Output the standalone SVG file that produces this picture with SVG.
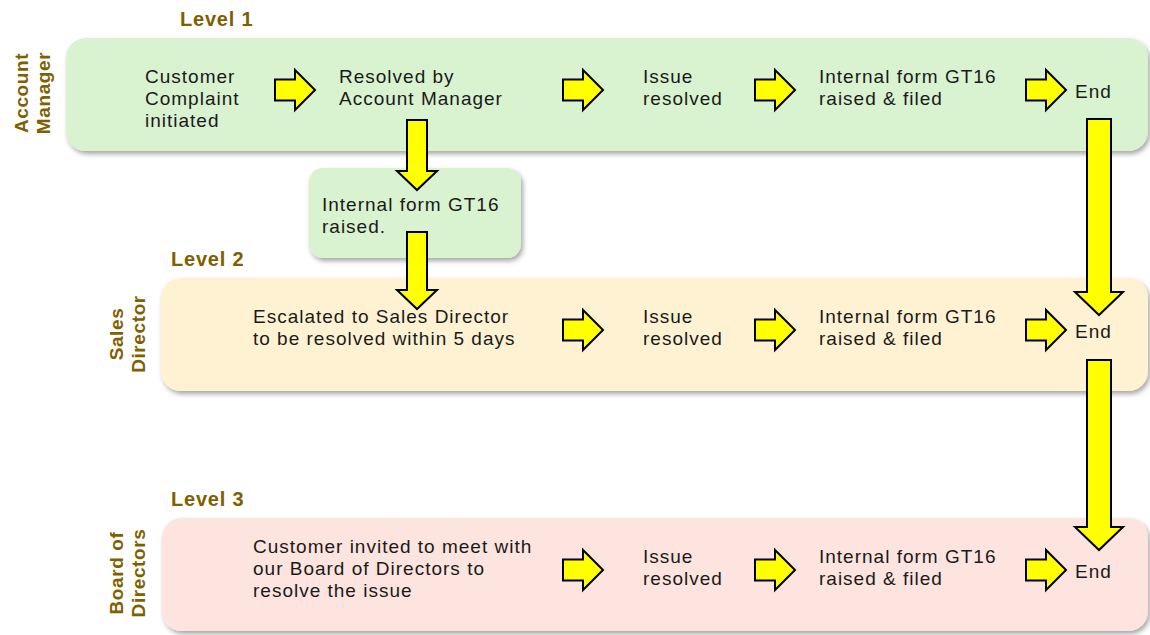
<svg xmlns="http://www.w3.org/2000/svg" xmlns:xlink="http://www.w3.org/1999/xlink" width="1150" height="635" viewBox="0 0 1150 635">
<style>
.t{font-family:"Liberation Sans",Arial,sans-serif;font-size:19px;letter-spacing:1px;fill:#1a1a1a}
.lv{font-family:"Liberation Sans",Arial,sans-serif;font-size:20px;font-weight:bold;letter-spacing:0.8px;fill:#7f6000}
.rl{font-family:"Liberation Sans",Arial,sans-serif;font-size:19px;font-weight:bold;letter-spacing:0.6px;fill:#7f6000}
.arr{fill:#ffff00;stroke:#000;stroke-width:2;stroke-linejoin:miter}
</style>
<defs>
<filter id="sh" x="-5%" y="-10%" width="110%" height="130%">
<feDropShadow dx="2" dy="3" stdDeviation="2.5" flood-color="#000" flood-opacity="0.35"/>
</filter>
<path id="ra" class="arr" d="M0,-10.5 H20 V-20 L40,0 L20,20 V10.5 H0 Z"/>
</defs>
<rect width="1150" height="635" fill="#fff"/>

<g id="level1">
<rect x="66" y="38" width="1082" height="113" rx="20" fill="#d9f2d0" filter="url(#sh)"/>
<text class="lv" x="180" y="26">Level 1</text>
<text class="rl" transform="translate(28,93) rotate(-90)" text-anchor="middle">Account</text>
<text class="rl" transform="translate(50,93) rotate(-90)" text-anchor="middle">Manager</text>
</g>
<g id="level2">
<rect x="161" y="278" width="987" height="113" rx="20" fill="#fff2d3" filter="url(#sh)"/>
<text class="lv" x="171" y="266">Level 2</text>
<text class="rl" transform="translate(123,334) rotate(-90)" text-anchor="middle">Sales</text>
<text class="rl" transform="translate(145,334) rotate(-90)" text-anchor="middle">Director</text>
</g>
<g id="level3">
<rect x="162" y="518" width="986" height="113" rx="20" fill="#fde4df" filter="url(#sh)"/>
<text class="lv" x="171" y="506">Level 3</text>
<text class="rl" transform="translate(123,573) rotate(-90)" text-anchor="middle">Board of</text>
<text class="rl" transform="translate(145,573) rotate(-90)" text-anchor="middle">Directors</text>
</g>

<g id="n-complaint"><text class="t" x="145" y="83">Customer</text><text class="t" x="145" y="105">Complaint</text><text class="t" x="145" y="127">initiated</text></g>
<g id="n-resolved-am"><text class="t" x="339" y="83">Resolved by</text><text class="t" x="339" y="105">Account Manager</text></g>
<g id="n-issue1"><text class="t" x="643" y="83">Issue</text><text class="t" x="643" y="105">resolved</text></g>
<g id="n-form1"><text class="t" x="819" y="83">Internal form GT16</text><text class="t" x="819" y="105">raised &amp; filed</text></g>
<g id="n-end1"><text class="t" x="1075" y="98">End</text></g>

<g id="n-form-raised">
<rect x="309" y="168" width="212" height="90" rx="14" fill="#d9f2d0" filter="url(#sh)"/>
<text class="t" x="322" y="211">Internal form GT16</text><text class="t" x="322" y="233">raised.</text>
</g>

<g id="n-escalated"><text class="t" x="253" y="323">Escalated to Sales Director</text><text class="t" x="253" y="345">to be resolved within 5 days</text></g>
<g id="n-issue2"><text class="t" x="643" y="323">Issue</text><text class="t" x="643" y="345">resolved</text></g>
<g id="n-form2"><text class="t" x="819" y="323">Internal form GT16</text><text class="t" x="819" y="345">raised &amp; filed</text></g>
<g id="n-end2"><text class="t" x="1075" y="338">End</text></g>

<g id="n-invited"><text class="t" x="253" y="553">Customer invited to meet with</text><text class="t" x="253" y="575">our Board of Directors to</text><text class="t" x="253" y="597">resolve the issue</text></g>
<g id="n-issue3"><text class="t" x="643" y="563">Issue</text><text class="t" x="643" y="585">resolved</text></g>
<g id="n-form3"><text class="t" x="819" y="563">Internal form GT16</text><text class="t" x="819" y="585">raised &amp; filed</text></g>
<g id="n-end3"><text class="t" x="1075" y="578">End</text></g>

<g id="connectors">
<use xlink:href="#ra" x="275" y="90"/>
<use xlink:href="#ra" x="563" y="90"/>
<use xlink:href="#ra" x="755" y="90"/>
<use xlink:href="#ra" x="1026" y="90"/>
<use xlink:href="#ra" x="563" y="330"/>
<use xlink:href="#ra" x="755" y="330"/>
<use xlink:href="#ra" x="1026" y="330"/>
<use xlink:href="#ra" x="563" y="570"/>
<use xlink:href="#ra" x="755" y="570"/>
<use xlink:href="#ra" x="1026" y="570"/>
<path class="arr" d="M407,120 H427 V171 H437 L417,190 L397,171 H407 Z"/>
<path class="arr" d="M407,232 H427 V290 H437 L417,309 L397,290 H407 Z"/>
<path class="arr" d="M1087,119 H1111 V292 H1123 L1099,315 L1075,292 H1087 Z"/>
<path class="arr" d="M1087,360 H1111 V527 H1123 L1099,550 L1075,527 H1087 Z"/>
</g>
</svg>
